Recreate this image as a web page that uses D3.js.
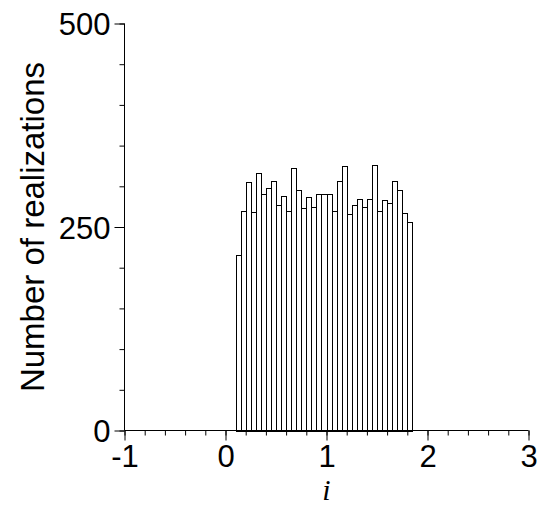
<!DOCTYPE html>
<html>
<head>
<meta charset="utf-8">
<script src="https://cdn.jsdelivr.net/npm/d3@7"></script>
<style>
  html, body { margin: 0; padding: 0; background: #fff; }
  svg { display: block; }
</style>
</head>
<body>
<svg id="chart" width="539" height="506"></svg>
<script>
// Histogram bins: left edges start at 0.1, width 0.05
const binStart = 0.1;
const binWidth = 0.05;
const counts = [216, 270, 305, 268, 316, 291, 298, 306, 277, 288,
                270, 322, 296, 273, 287, 274, 290, 290, 291, 270,
                306, 325, 266, 277, 285, 274, 285, 326, 270, 283,
                280, 306, 295, 267, 256];
const xTicks = [-1, 0, 1, 2, 3];
const yTicks = [0, 250, 500];
const xMinorTicks = d3.range(-1, 3.0001, 0.2).map(v => +v.toFixed(2));
const yMinorTicks = d3.range(0, 500.001, 50);
const xLabel = "i";
const yLabel = "Number of realizations";

const bins = counts.map((c, i) => ({ x0: binStart + i * binWidth, x1: binStart + (i + 1) * binWidth, n: c }));

const svg = d3.select("#chart");
const x = d3.scaleLinear().domain([-1, 3]).range([124.5, 528.5]);
const y = d3.scaleLinear().domain([0, 500]).range([430.5, 23.5]);
const fmt = d => String(d); // plain hyphen-minus as in the reference

// bars
svg.append("g").selectAll("rect").data(bins).join("rect")
  .attr("x", d => Math.round(x(d.x0)) + 0.5)
  .attr("width", d => Math.round(x(d.x1)) - Math.round(x(d.x0)))
  .attr("y", d => Math.round(y(d.n)) + 0.5)
  .attr("height", d => Math.round(y(0)) - Math.round(y(d.n)))
  .attr("fill", "#fff").attr("stroke", "#000").attr("stroke-width", 1);

const font = "'Liberation Sans', Arial, sans-serif";

// x axis
const xAxis = svg.append("g").attr("transform", `translate(0,${y(0)})`);
xAxis.call(d3.axisBottom(x).tickValues(xMinorTicks).tickSize(5).tickFormat(""))
  .call(g => g.select(".domain").remove());
xAxis.append("g").call(d3.axisBottom(x).tickValues(xTicks).tickSize(10).tickPadding(4).tickFormat(fmt))
  .call(g => g.select(".domain").remove())
  .call(g => g.selectAll("text").attr("font-family", font).attr("font-size", 31).attr("fill", "#000"));
xAxis.append("line").attr("x1", x(-1)).attr("x2", x(3)).attr("stroke", "#000");
xAxis.selectAll("line").attr("stroke", "#000").attr("stroke-width", 1);

// y axis
const yAxis = svg.append("g").attr("transform", `translate(${x(-1)},0)`);
yAxis.call(d3.axisLeft(y).tickValues(yMinorTicks).tickSize(5).tickFormat(""))
  .call(g => g.select(".domain").remove());
yAxis.append("g").call(d3.axisLeft(y).tickValues(yTicks).tickSize(10).tickPadding(4).tickFormat(fmt))
  .call(g => g.select(".domain").remove())
  .call(g => g.selectAll("text").attr("font-family", font).attr("font-size", 31).attr("fill", "#000").attr("dy", "0.36em"));
yAxis.append("line").attr("y1", y(0)).attr("y2", y(500)).attr("stroke", "#000");
yAxis.selectAll("line").attr("stroke", "#000").attr("stroke-width", 1);

// axis titles
svg.append("text")
  .attr("x", x(1)).attr("y", 500)
  .attr("text-anchor", "middle")
  .attr("font-family", "'Liberation Serif', 'Times New Roman', serif")
  .attr("font-style", "italic").attr("font-size", 30)
  .text(xLabel);

svg.append("text")
  .attr("transform", `translate(44,227) rotate(-90)`)
  .attr("text-anchor", "middle")
  .attr("font-family", font).attr("font-size", 33).attr("fill", "#000")
  .text(yLabel);
</script>
</body>
</html>
